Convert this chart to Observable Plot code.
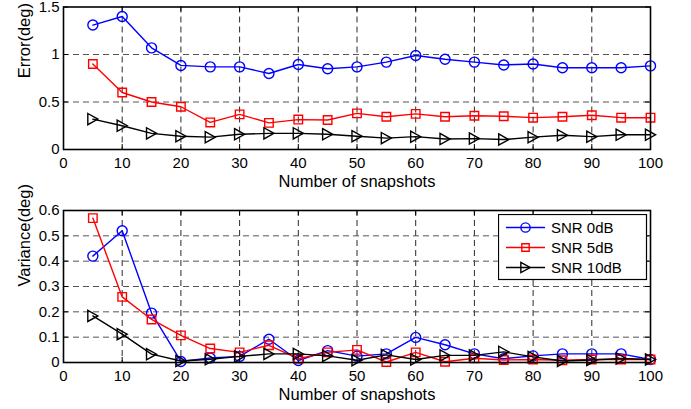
<!DOCTYPE html>
<html><head><meta charset="utf-8">
<script src="https://cdn.jsdelivr.net/npm/d3@7"></script>
<script src="https://cdn.jsdelivr.net/npm/@observablehq/plot@0.6"></script>
<style>
body{margin:0;background:#fff;}
#wrap{position:relative;width:691px;height:409px;font-family:"Liberation Sans",Arial,Helvetica,sans-serif;}
#wrap svg{display:block;}
</style></head><body><div id="wrap"></div>
<script>
const snapshots = [5,10,15,20,25,30,35,40,45,50,55,60,65,70,75,80,85,90,95,100];
const errSNR0  = [1.31,1.40,1.07,0.885,0.87,0.87,0.80,0.895,0.85,0.87,0.92,0.99,0.95,0.92,0.89,0.90,0.86,0.86,0.86,0.88];
const errSNR5  = [0.90,0.60,0.50,0.45,0.285,0.37,0.28,0.315,0.31,0.38,0.345,0.375,0.345,0.355,0.35,0.335,0.345,0.36,0.335,0.335];
const errSNR10 = [0.32,0.25,0.17,0.14,0.13,0.16,0.17,0.17,0.16,0.14,0.12,0.135,0.11,0.115,0.105,0.13,0.15,0.135,0.155,0.155];
const varSNR0  = [0.42,0.52,0.195,0.004,0.018,0.024,0.092,0.008,0.047,0.025,0.034,0.099,0.07,0.034,0.015,0.026,0.034,0.034,0.034,0.012];
const varSNR5  = [0.57,0.259,0.17,0.107,0.055,0.04,0.068,0.015,0.04,0.05,0.002,0.04,0.003,0.017,0.01,0.012,0.009,0.012,0.012,0.012];
const varSNR10 = [0.184,0.112,0.033,0.006,0.013,0.024,0.034,0.034,0.026,0.009,0.03,0.012,0.028,0.028,0.042,0.022,0.006,0.01,0.016,0.012];
const seriesNames = ["SNR 0dB","SNR 5dB","SNR 10dB"];
const xTicks = [0,10,20,30,40,50,60,70,80,90,100];
const errTicks = [0,0.5,1,1.5];
const varTicks = [0,0.1,0.2,0.3,0.4,0.5,0.6];
const xLabel = "Number of snapshots";
const errLabel = "Error(deg)";
const varLabel = "Variance(deg)";

const colors = ["#0000ff","#ff0000","#000000"];
const triRight = {draw(ctx,size){const r=Math.sqrt(size/Math.PI);ctx.moveTo(-0.9*r,-r);ctx.lineTo(0.9*r,0);ctx.lineTo(-0.9*r,r);ctx.closePath();}};
const symbols = ["circle","square",triRight];
const d3symbols = [d3.symbolCircle,d3.symbolSquare,triRight];
const radii = [5,4.8,5.6];
const FONT = '"Liberation Sans",Arial,Helvetica,sans-serif';

function chart({height, marginTop, marginBottom, yDomain, yTicks, yLabel, series}) {
  const W=691, ML=63, MR=41;
  const fw = W-ML-MR, fh = height-marginTop-marginBottom;
  const marks = [];
  marks.push(Plot.ruleX(xTicks.slice(1,-1), {stroke:"#111", strokeDasharray:"6,4", strokeWidth:0.9}));
  marks.push(Plot.ruleY(yTicks.slice(1,-1), {stroke:"#555", strokeDasharray:"6,4", strokeWidth:1}));
  marks.push(Plot.ruleX(xTicks, {insetTop: fh-5, stroke:"#000"}));
  marks.push(Plot.ruleX(xTicks, {insetBottom: fh-5, stroke:"#000"}));
  marks.push(Plot.ruleY(yTicks, {insetRight: fw-5, stroke:"#000"}));
  marks.push(Plot.ruleY(yTicks, {insetLeft: fw-5, stroke:"#000"}));
  series.forEach((vals,i)=>{
    const data = vals.map((v,j)=>({x:snapshots[j], y:v}));
    marks.push(Plot.line(data,{x:"x",y:"y",stroke:colors[i],strokeWidth:1.4}));
    marks.push(Plot.dot(data,{x:"x",y:"y",symbol:symbols[i],r:radii[i],stroke:colors[i],fill:"none",strokeWidth:1.4}));
  });
  marks.push(Plot.frame({stroke:"#000", strokeWidth:1.6}));
  marks.push(Plot.axisX({ticks:xTicks, tickSize:0, tickPadding:8, label:null, fontSize:15, tickFormat:d=>String(d)}));
  marks.push(Plot.axisY({ticks:yTicks, tickSize:0, tickPadding:4, label:null, fontSize:15, tickFormat:d=>String(d)}));
  marks.push(Plot.text([xLabel],{text:d=>d, frameAnchor:"bottom", dy:32.5, fontSize:16.5, lineAnchor:"middle"}));
  marks.push(Plot.text([yLabel],{text:d=>d, frameAnchor:"left", rotate:-90, dx:-39, fontSize:16.5, lineAnchor:"middle"}));
  return Plot.plot({
    width: W, height, marginLeft: ML, marginRight: MR, marginTop, marginBottom,
    x: {domain:[0,100]}, y: {domain:yDomain},
    style: {fontFamily: FONT, color:"#000", background:"#fff", overflow:"visible"},
    marks
  });
}

const wrap = document.getElementById("wrap");
wrap.appendChild(chart({height:204, marginTop:6.5, marginBottom:55, yDomain:[0,1.5], yTicks:errTicks, yLabel:errLabel, series:[errSNR0,errSNR5,errSNR10]}));
wrap.appendChild(chart({height:205, marginTop:6, marginBottom:47, yDomain:[0,0.6], yTicks:varTicks, yLabel:varLabel, series:[varSNR0,varSNR5,varSNR10]}));

// legend
const leg = d3.select(wrap).append("svg").attr("width",150).attr("height",67)
  .style("position","absolute").style("left","498px").style("top","214px");
leg.append("rect").attr("x",0.5).attr("y",0.5).attr("width",148).attr("height",65)
  .attr("fill","#fff").attr("stroke","#000").attr("stroke-width",1.2);
seriesNames.forEach((name,i)=>{
  const cy = 13.5 + 20*i;
  leg.append("line").attr("x1",8).attr("x2",47).attr("y1",cy).attr("y2",cy).attr("stroke",colors[i]).attr("stroke-width",1.4);
  leg.append("path").attr("d", d3.symbol(d3symbols[i], Math.PI*radii[i]*radii[i]*(i===1?0.75:0.85))())
    .attr("transform",`translate(27.5,${cy})`).attr("fill","none").attr("stroke",colors[i]).attr("stroke-width",1.4);
  leg.append("text").attr("x",53).attr("y",cy).attr("dy","0.35em").attr("font-size",15)
    .attr("font-family",FONT).attr("fill","#000").text(name);
});
</script></body></html>
